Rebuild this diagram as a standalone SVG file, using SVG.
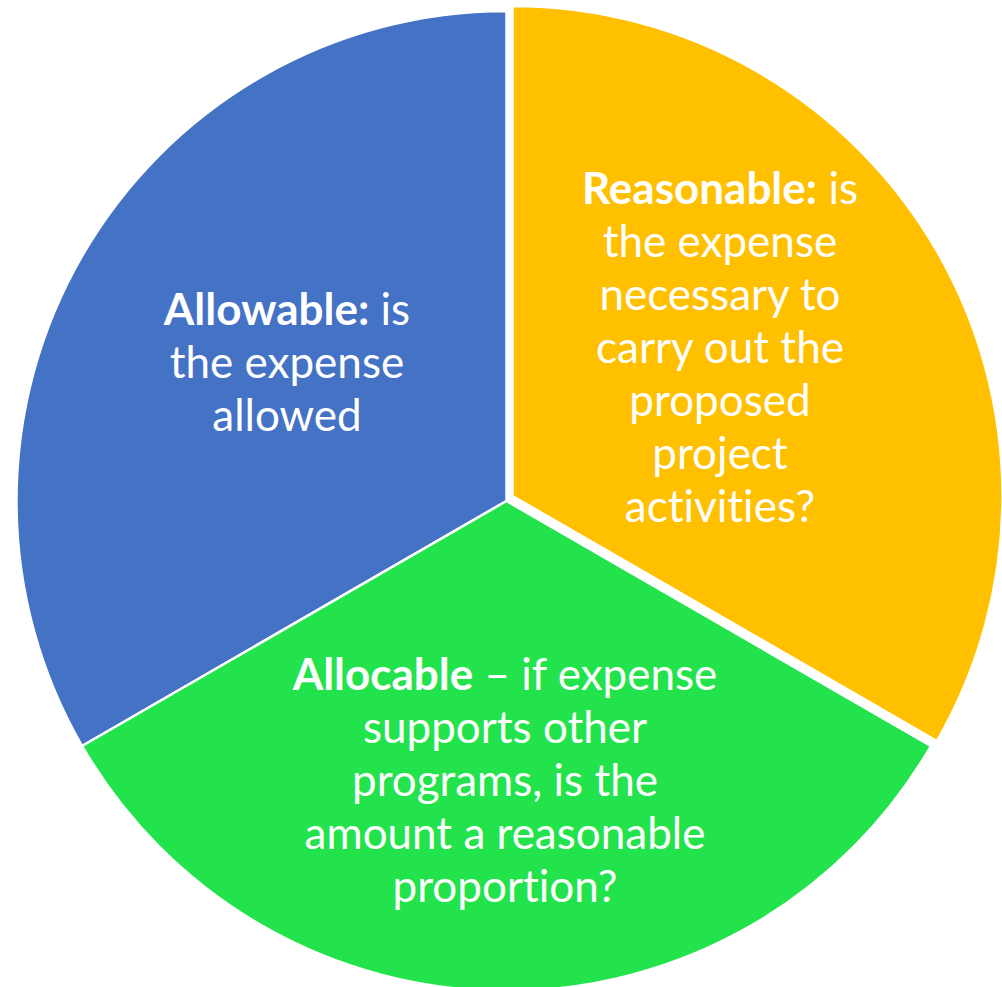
<svg xmlns="http://www.w3.org/2000/svg" width="1002" height="987" viewBox="0 0 1002 987">
<style>
.slice{stroke:#fff;stroke-width:2.5;stroke-linejoin:miter}
.lbl{font-family:Lato,"Liberation Sans",sans-serif;font-size:44px;fill:#fff;text-anchor:middle;font-variant-ligatures:none;font-feature-settings:"liga" 0,"clig" 0}
.b{font-weight:bold}
</style>
<rect width="1002" height="987" fill="#fff"/>
<g id="allowable">
<path class="slice" fill="#4472C4" d="M506.5,501 L506.5,11 A490,490 0 0 0 82.1,746 Z"/>
<text class="lbl" x="287" y="325"><tspan class="b">Allowable:</tspan> is</text>
<text class="lbl" x="287" y="378">the expense</text>
<text class="lbl" x="287" y="431">allowed</text>
</g>
<g id="reasonable">
<path class="slice" fill="#FFC000" d="M512.5,496 L512.5,6 A490,490 0 0 1 936.9,741 Z"/>
<text class="lbl" x="720" y="204"><tspan class="b">Reasonable:</tspan> is</text>
<text class="lbl" x="720" y="257">the expense</text>
<text class="lbl" x="720" y="310">necessary to</text>
<text class="lbl" x="720" y="363">carry out the</text>
<text class="lbl" x="720" y="416">proposed</text>
<text class="lbl" x="720" y="469">project</text>
<text class="lbl" x="720" y="522">activities?</text>
</g>
<g id="allocable">
<path class="slice" fill="#22E34C" d="M506.5,501 L82.1,746 A490,490 0 0 0 930.9,746 Z"/>
<text class="lbl" x="505" y="690"><tspan class="b">Allocable</tspan> – if expense</text>
<text class="lbl" x="505" y="743">supports other</text>
<text class="lbl" x="505" y="796">programs, is the</text>
<text class="lbl" x="505" y="849">amount a reasonable</text>
<text class="lbl" x="505" y="902">proportion?</text>
</g>
<g id="connectors"></g>
</svg>
